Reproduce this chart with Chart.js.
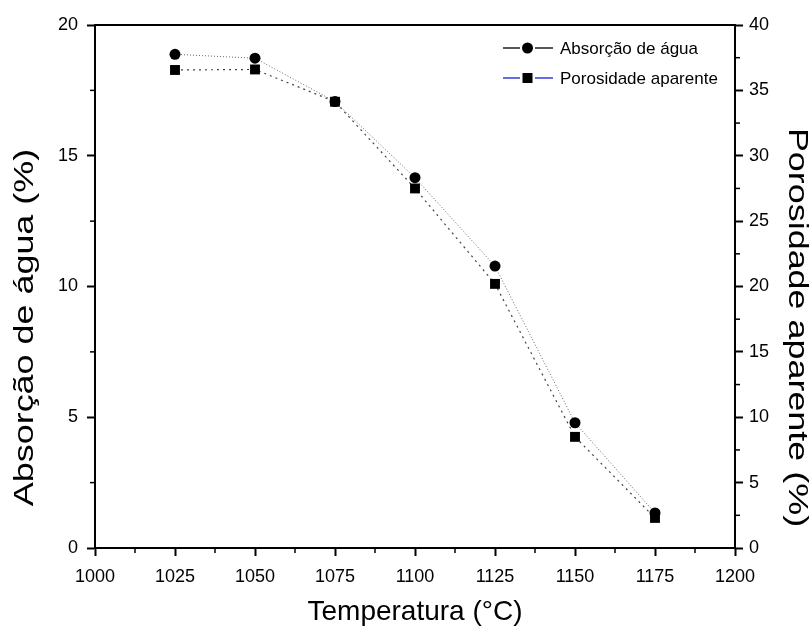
<!DOCTYPE html>
<html>
<head>
<meta charset="utf-8">
<script src="https://cdn.jsdelivr.net/npm/chart.js@4"></script>
<style>
  html, body { margin: 0; padding: 0; background: #fff; }
  #wrap { width: 811px; height: 629px; }
</style>
</head>
<body>
<div id="wrap"><canvas id="grafico" width="811" height="629"></canvas></div>
<script>
const temperaturas = [1025, 1050, 1075, 1100, 1125, 1150, 1175];
const absorcao = [18.88, 18.73, 17.07, 14.16, 10.78, 4.79, 1.34];
const porosidade = [36.56, 36.6, 34.13, 27.5, 20.2, 8.5, 2.3];

const tituloEsq = 'Absorção de água (%)';
const tituloDir = 'Porosidade aparente (%)';

const fonte = '"Liberation Sans", Arial, sans-serif';

// minor ticks, frame and the two vertical titles
const extras = {
    id: 'extras',
    afterDraw(chart) {
        const ctx = chart.ctx;
        const a = chart.chartArea;
        ctx.save();
        ctx.strokeStyle = '#000';
        ctx.lineWidth = 1.5;
        const x = chart.scales.x;
        for (let v = 1012.5; v < 1200; v += 25) {
            const px = x.getPixelForValue(v);
            ctx.beginPath(); ctx.moveTo(px, a.bottom); ctx.lineTo(px, a.bottom + 5); ctx.stroke();
        }
        const y = chart.scales.y;
        for (let v = 2.5; v < 20; v += 5) {
            const py = y.getPixelForValue(v);
            ctx.beginPath(); ctx.moveTo(a.left, py); ctx.lineTo(a.left - 5, py); ctx.stroke();
        }
        const y2 = chart.scales.y2;
        for (let v = 2.5; v < 40; v += 5) {
            const py = y2.getPixelForValue(v);
            ctx.beginPath(); ctx.moveTo(a.right, py); ctx.lineTo(a.right + 5, py); ctx.stroke();
        }
        ctx.lineWidth = 2;
        ctx.strokeRect(a.left, a.top, a.right - a.left, a.bottom - a.top);

        // titles: the original is stretched along its length
        ctx.fillStyle = '#000';
        ctx.font = '27px ' + fonte;
        ctx.textAlign = 'center';
        ctx.textBaseline = 'middle';
        const cy = (a.top + a.bottom) / 2 + 41;
        ctx.save();
        ctx.translate(26, cy);
        ctx.rotate(-Math.PI / 2);
        ctx.scale(1.33, 1);
        ctx.fillText(tituloEsq, 0, 0);
        ctx.restore();
        ctx.save();
        ctx.translate(796, cy);
        ctx.rotate(Math.PI / 2);
        ctx.scale(1.33, 1);
        ctx.fillText(tituloDir, 0, 0);
        ctx.restore();
        ctx.restore();
    }
};

// legend inside the plot, top right
const legendaInterna = {
    id: 'legendaInterna',
    afterDraw(chart) {
        const ctx = chart.ctx;
        const a = chart.chartArea;
        const itens = [
            { texto: 'Absorção de água', linha: '#222', forma: 'circle' },
            { texto: 'Porosidade aparente', linha: '#3b3bd6', forma: 'rect' }
        ];
        ctx.save();
        ctx.font = '17px ' + fonte;
        ctx.textBaseline = 'middle';
        itens.forEach((it, i) => {
            const yy = a.top + 23 + i * 30;
            const x0 = a.right - 232;
            ctx.strokeStyle = it.linha;
            ctx.lineWidth = 1.3;
            ctx.beginPath();
            ctx.moveTo(x0, yy); ctx.lineTo(x0 + 17, yy);
            ctx.moveTo(x0 + 32, yy); ctx.lineTo(x0 + 50, yy);
            ctx.stroke();
            ctx.fillStyle = '#000';
            if (it.forma === 'circle') {
                ctx.beginPath(); ctx.arc(x0 + 24.5, yy, 5.5, 0, Math.PI * 2); ctx.fill();
            } else {
                ctx.fillRect(x0 + 19.5, yy - 5, 10, 10);
            }
            ctx.fillText(it.texto, x0 + 57, yy + 1);
        });
        ctx.restore();
    }
};

const ctx = document.getElementById('grafico').getContext('2d');

new Chart(ctx, {
    type: 'line',
    data: {
        datasets: [{
            label: 'Absorção de água',
            data: temperaturas.map((t, i) => ({ x: t, y: absorcao[i] })),
            yAxisID: 'y',
            borderColor: '#666',
            borderWidth: 1,
            borderDash: [1, 2],
            pointStyle: 'circle',
            pointRadius: 5.5,
            pointBackgroundColor: '#000',
            pointBorderColor: '#000',
            pointBorderWidth: 0,
            tension: 0
        }, {
            label: 'Porosidade aparente',
            data: temperaturas.map((t, i) => ({ x: t, y: porosidade[i] })),
            yAxisID: 'y2',
            borderColor: '#444',
            borderWidth: 1.2,
            borderDash: [2, 4],
            pointStyle: 'rect',
            pointRadius: 7,
            pointBackgroundColor: '#000',
            pointBorderColor: '#000',
            pointBorderWidth: 0,
            tension: 0
        }]
    },
    options: {
        responsive: false,
        animation: false,
        layout: { padding: { top: 25, left: 0, right: 0, bottom: 0 } },
        plugins: {
            legend: { display: false },
            tooltip: { enabled: false }
        },
        scales: {
            x: {
                type: 'linear',
                min: 1000,
                max: 1200,
                afterFit: s => { s.height = 81; },
                ticks: { stepSize: 25, color: '#000', font: { family: fonte, size: 18 }, padding: 10, maxRotation: 0, callback: v => String(v) },
                grid: { drawOnChartArea: false, tickLength: 8, tickColor: '#000', tickWidth: 2 },
                border: { color: '#000', width: 2 },
                title: {
                    display: true, text: 'Temperatura (°C)', color: '#000',
                    font: { family: fonte, size: 28, lineHeight: 1.2 }, padding: { top: 0, bottom: 0 }
                }
            },
            y: {
                position: 'left',
                min: 0,
                max: 20,
                afterFit: s => { s.width = 95; },
                ticks: { stepSize: 5, color: '#000', font: { family: fonte, size: 18 }, padding: 9, callback: v => String(v) },
                grid: { drawOnChartArea: false, tickLength: 8, tickColor: '#000', tickWidth: 2 },
                border: { color: '#000', width: 2 },
                title: { display: false }
            },
            y2: {
                position: 'right',
                min: 0,
                max: 40,
                afterFit: s => { s.width = 76; },
                ticks: { stepSize: 5, color: '#000', font: { family: fonte, size: 18 }, padding: 6, callback: v => String(v) },
                grid: { drawOnChartArea: false, tickLength: 8, tickColor: '#000', tickWidth: 2 },
                border: { color: '#000', width: 2 },
                title: { display: false }
            }
        }
    },
    plugins: [extras, legendaInterna]
});
</script>
</body>
</html>
